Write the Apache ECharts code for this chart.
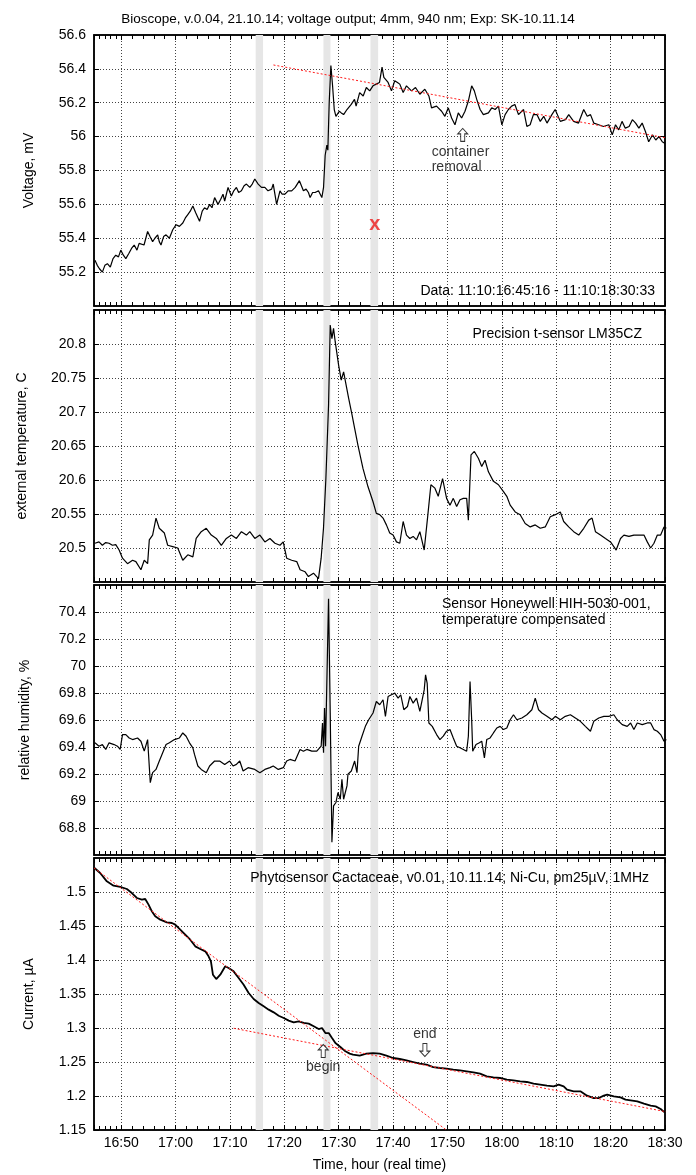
<!DOCTYPE html>
<html>
<head>
<meta charset="utf-8">
<script src="https://cdn.jsdelivr.net/npm/echarts@6/dist/echarts.min.js"></script>
<style>
html, body { margin: 0; padding: 0; background: #fff; }
#main { width: 696px; height: 1175px; }
</style>
</head>
<body>
<div id="main"></div>
<script>
// time is kept as minutes after 16:45
var startTime = new Date(2014, 10, 11, 16, 45, 0).getTime();
function ts(m) { return startTime + m * 60000; }
function pad(n) { return (n < 10 ? '0' : '') + n; }

// grey vertical marks (minutes after 16:45)
var bands = [[29.73, 31.09], [42.19, 43.48], [50.84, 52.25]];

var voltage = [[0.18,55.27],[0.6,55.24],[1.0,55.22],[1.54,55.20],[2.0,55.24],[2.46,55.25],[3.0,55.23],[3.5,55.28],[4.0,55.30],[4.5,55.29],[4.93,55.33],[5.4,55.30],[5.85,55.28],[6.4,55.31],[6.9,55.34],[7.39,55.36],[7.9,55.33],[8.3,55.37],[8.63,55.38],[9.2,55.36],[9.86,55.44],[10.3,55.41],[10.78,55.38],[11.2,55.40],[11.71,55.42],[12.0,55.38],[12.32,55.36],[12.8,55.41],[13.25,55.42],[13.86,55.40],[14.48,55.45],[15.1,55.48],[15.7,55.47],[16.33,55.49],[16.8,55.52],[17.25,55.54],[17.7,55.56],[18.18,55.59],[18.7,55.55],[19.41,55.50],[19.9,55.56],[20.33,55.58],[20.8,55.57],[21.26,55.60],[21.7,55.58],[22.18,55.64],[22.8,55.60],[23.3,55.63],[23.72,55.66],[24.03,55.62],[24.65,55.70],[25.26,55.65],[25.7,55.68],[26.19,55.70],[26.6,55.67],[27.11,55.68],[27.6,55.71],[28.03,55.72],[28.65,55.70],[29.1,55.72],[29.57,55.75],[30.19,55.72],[30.8,55.70],[31.42,55.70],[32.0,55.68],[32.66,55.69],[32.96,55.72],[33.58,55.60],[34.2,55.68],[34.6,55.66],[35.12,55.66],[35.7,55.68],[36.35,55.68],[37.0,55.70],[37.77,55.74],[38.51,55.68],[39.0,55.69],[39.43,55.67],[39.74,55.64],[40.2,55.67],[40.67,55.67],[41.28,55.68],[41.9,55.64],[42.21,55.70],[42.51,55.89],[42.82,55.95],[43.0,55.92],[43.25,56.2],[43.56,56.42],[43.87,56.30],[44.18,56.16],[44.49,56.12],[45.1,56.15],[45.47,56.14],[45.9,56.13],[46.52,56.16],[47.3,56.19],[47.9,56.22],[48.2,56.18],[48.85,56.26],[49.5,56.24],[50.08,56.29],[50.7,56.27],[51.3,56.30],[51.9,56.31],[52.5,56.32],[52.97,56.41],[53.3,56.35],[54.08,56.32],[54.7,56.27],[55.3,56.33],[55.8,56.32],[56.23,56.31],[56.85,56.26],[57.46,56.30],[58.38,56.27],[59.12,56.29],[59.92,56.25],[60.84,56.28],[61.58,56.24],[62.07,56.17],[62.99,56.18],[63.92,56.15],[64.53,56.12],[65.15,56.17],[65.76,56.11],[66.38,56.07],[66.99,56.14],[67.6,56.11],[68.22,56.15],[68.84,56.21],[69.45,56.30],[69.94,56.27],[70.38,56.22],[71.0,56.16],[71.6,56.13],[72.53,56.14],[73.14,56.17],[73.76,56.16],[74.37,56.18],[75.0,56.07],[75.6,56.13],[76.2,56.16],[76.8,56.18],[77.4,56.19],[78.06,56.13],[78.99,56.16],[79.6,56.06],[80.2,56.07],[80.8,56.13],[81.45,56.13],[82.06,56.09],[82.7,56.12],[83.3,56.08],[84.2,56.13],[84.8,56.16],[85.75,56.09],[86.7,56.10],[87.3,56.13],[88.2,56.09],[89.1,56.08],[90.05,56.16],[90.7,56.12],[91.3,56.13],[91.9,56.08],[92.8,56.07],[93.7,56.06],[94.67,56.07],[95.3,56.01],[95.9,56.07],[96.5,56.04],[97.1,56.09],[97.7,56.05],[98.4,56.06],[99.0,56.10],[99.6,56.08],[100.2,56.05],[100.8,56.08],[101.4,56.03],[102.0,55.97],[102.7,56.01],[103.3,55.98],[103.9,56.00],[104.5,55.97],[105.0,55.96]];
var voltageFit = [[33.0,56.423],[105.6,55.99]];
var redMark = [[51.63,55.484]];
var containerArrow = [[67.8,56.01]];

var temperature = [[0.18,20.507],[0.92,20.509],[1.54,20.504],[2.16,20.508],[2.77,20.507],[3.39,20.504],[4.0,20.505],[4.62,20.497],[5.24,20.485],[6.16,20.477],[7.09,20.482],[7.7,20.480],[8.63,20.468],[9.24,20.482],[9.86,20.477],[10.17,20.512],[10.78,20.519],[11.4,20.544],[12.0,20.529],[12.94,20.522],[13.55,20.504],[14.48,20.502],[15.4,20.500],[16.33,20.482],[17.25,20.490],[18.18,20.487],[18.79,20.514],[19.72,20.524],[20.64,20.529],[21.57,20.519],[22.49,20.514],[23.41,20.504],[24.34,20.514],[25.26,20.519],[26.19,20.514],[27.11,20.524],[28.03,20.519],[28.65,20.524],[29.57,20.514],[30.5,20.519],[31.42,20.509],[32.35,20.514],[33.27,20.507],[34.2,20.504],[34.8,20.509],[35.43,20.485],[36.35,20.482],[37.28,20.480],[37.9,20.468],[38.82,20.465],[39.43,20.458],[40.36,20.463],[41.28,20.455],[41.77,20.485],[42.2,20.529],[42.64,20.602],[43.13,20.710],[43.44,20.828],[43.75,20.808],[44.05,20.823],[44.36,20.803],[44.98,20.769],[45.47,20.747],[45.9,20.759],[46.83,20.720],[47.44,20.696],[47.93,20.676],[48.54,20.651],[49.46,20.617],[50.39,20.590],[51.31,20.568],[51.92,20.551],[52.54,20.549],[53.15,20.544],[53.77,20.534],[54.38,20.522],[55.0,20.519],[55.62,20.509],[56.23,20.507],[56.85,20.539],[57.46,20.519],[58.08,20.514],[58.69,20.517],[59.31,20.512],[59.92,20.524],[60.72,20.497],[61.33,20.544],[61.95,20.593],[62.69,20.588],[63.3,20.576],[64.1,20.602],[64.84,20.573],[65.46,20.563],[66.07,20.573],[66.69,20.561],[67.3,20.571],[67.92,20.573],[68.53,20.573],[68.84,20.541],[69.33,20.637],[69.94,20.642],[70.68,20.632],[71.3,20.620],[71.91,20.629],[72.53,20.612],[73.45,20.598],[74.37,20.593],[75.3,20.583],[75.91,20.576],[76.53,20.563],[77.45,20.553],[78.37,20.549],[79.29,20.536],[80.22,20.531],[81.14,20.534],[82.06,20.529],[82.98,20.531],[83.9,20.546],[84.83,20.549],[85.75,20.553],[86.37,20.539],[87.29,20.531],[88.21,20.524],[89.13,20.519],[90.06,20.529],[90.98,20.541],[91.59,20.544],[92.21,20.524],[93.13,20.519],[94.05,20.514],[94.98,20.509],[95.59,20.502],[96.02,20.497],[96.82,20.514],[97.44,20.519],[98.36,20.517],[99.28,20.519],[100.2,20.519],[101.13,20.519],[101.74,20.509],[102.36,20.500],[102.97,20.507],[103.59,20.519],[104.2,20.519],[104.82,20.531],[105.25,20.529]];

var humidity = [[0.18,69.431],[0.92,69.406],[1.54,69.418],[2.16,69.382],[2.77,69.431],[3.7,69.418],[4.31,69.406],[4.81,69.382],[5.24,69.492],[5.85,69.492],[6.47,69.467],[7.09,69.455],[8.01,69.467],[8.63,69.443],[9.24,69.369],[9.86,69.455],[10.35,69.136],[10.78,69.21],[11.4,69.234],[12.01,69.296],[12.63,69.357],[13.25,69.418],[13.86,69.431],[14.79,69.455],[15.71,69.467],[16.33,69.504],[16.94,69.48],[17.56,69.431],[18.18,69.394],[18.48,69.345],[19.1,69.259],[19.72,69.234],[20.64,69.21],[21.26,69.259],[22.18,69.296],[23.1,69.296],[24.03,69.271],[24.95,69.296],[25.57,69.259],[26.19,69.271],[26.8,69.296],[27.42,69.222],[28.34,69.247],[29.57,69.234],[30.5,69.21],[31.42,69.234],[32.35,69.247],[32.96,69.259],[33.89,69.234],[34.81,69.247],[35.43,69.296],[36.04,69.308],[36.97,69.296],[37.89,69.382],[38.51,69.369],[39.13,69.382],[40.05,69.369],[40.97,69.369],[41.77,69.406],[42.02,69.578],[42.21,69.357],[42.39,69.688],[42.58,69.406],[42.82,69.406],[43.13,70.498],[43.44,69.652],[43.75,68.695],[44.05,68.964],[44.49,68.989],[44.86,69.063],[45.29,69.013],[45.59,69.161],[45.9,69.013],[46.52,69.112],[46.7,69.198],[47.32,69.222],[47.93,69.296],[48.36,69.21],[48.67,69.406],[49.28,69.48],[49.9,69.553],[50.51,69.602],[51.31,69.652],[51.92,69.737],[52.54,69.713],[53.15,69.75],[53.59,69.627],[54.08,69.774],[54.69,69.787],[55.31,69.799],[55.92,69.762],[56.41,69.787],[56.97,69.676],[57.64,69.70],[58.08,69.774],[58.69,69.725],[59.31,69.762],[59.92,69.664],[60.72,69.823],[60.97,69.934],[61.27,69.872],[61.58,69.578],[62.2,69.553],[63.0,69.492],[63.61,69.455],[64.23,69.48],[64.84,69.517],[65.46,69.529],[66.07,69.467],[66.69,69.406],[67.3,69.394],[67.92,69.382],[68.53,69.369],[68.84,69.48],[69.15,69.885],[69.45,69.602],[69.64,69.369],[70.25,69.418],[70.87,69.431],[71.3,69.443],[71.79,69.32],[72.22,69.455],[72.84,69.467],[73.45,69.504],[74.07,69.541],[74.68,69.553],[75.3,69.529],[75.91,69.541],[76.53,69.602],[77.14,69.639],[77.76,69.602],[78.68,69.615],[79.6,69.639],[80.52,69.676],[81.14,69.762],[81.75,69.676],[82.37,69.652],[83.29,69.627],[84.21,69.602],[84.83,69.627],[85.75,69.602],[86.67,69.627],[87.6,69.639],[88.52,69.615],[89.44,69.59],[90.36,69.553],[91.29,69.517],[91.9,69.59],[92.82,69.615],[93.75,69.627],[94.67,69.627],[95.59,69.639],[96.21,69.602],[97.13,69.566],[98.05,69.553],[98.67,69.578],[99.28,69.529],[99.9,69.578],[100.82,69.566],[101.74,69.578],[102.36,69.578],[102.97,69.529],[103.59,69.517],[104.2,69.492],[104.82,69.443],[105.25,69.455]];

var current = [[0.09,1.5353],[1.13,1.528],[2.36,1.5157],[3.59,1.5093],[4.82,1.5074],[6.04,1.5044],[6.96,1.4985],[7.88,1.4912],[8.8,1.4887],[9.42,1.4897],[10.03,1.4814],[10.64,1.4716],[11.26,1.4642],[12.18,1.4593],[13.4,1.4554],[14.33,1.4544],[14.94,1.452],[15.86,1.4446],[16.78,1.4373],[17.7,1.4299],[18.62,1.4201],[19.54,1.4162],[20.46,1.4127],[21.07,1.4054],[21.5,1.398],[21.87,1.3784],[22.48,1.372],[23.22,1.3784],[24.14,1.3907],[24.75,1.3882],[25.67,1.3833],[26.6,1.3735],[27.52,1.3637],[28.44,1.3515],[29.36,1.3426],[30.28,1.3368],[31.2,1.3319],[32.12,1.327],[33.04,1.323],[33.96,1.3181],[34.88,1.3147],[35.8,1.3108],[36.72,1.3083],[37.64,1.3098],[38.56,1.3074],[39.48,1.3064],[40.4,1.3025],[41.32,1.2985],[41.93,1.3],[42.55,1.2926],[43.16,1.2926],[43.77,1.2853],[44.39,1.2779],[45.31,1.272],[46.23,1.2657],[47.02,1.2623],[47.62,1.2608],[48.85,1.2593],[50.08,1.2623],[51.31,1.2632],[52.54,1.2623],[53.77,1.2593],[55.0,1.2559],[56.23,1.2544],[57.46,1.2525],[58.69,1.25],[59.92,1.2475],[61.15,1.2461],[62.38,1.2426],[63.61,1.2412],[64.84,1.2402],[66.07,1.2387],[67.3,1.2377],[68.53,1.2363],[69.76,1.2348],[70.99,1.2328],[72.22,1.2289],[73.45,1.2275],[74.68,1.2265],[75.91,1.224],[77.14,1.223],[78.37,1.2216],[79.6,1.2206],[80.83,1.2181],[82.06,1.2167],[83.29,1.2152],[84.52,1.2142],[85.44,1.2167],[86.37,1.2142],[86.98,1.2093],[88.21,1.2069],[89.44,1.2069],[90.67,1.2005],[91.9,1.197],[92.82,1.197],[93.75,1.2005],[94.36,1.202],[95.59,1.1995],[96.82,1.198],[97.74,1.1946],[98.67,1.1936],[99.9,1.1922],[101.13,1.1887],[102.36,1.1858],[103.28,1.1848],[104.2,1.1809],[104.94,1.176]];
var currentFitA = [[0,1.5353],[64.8,1.15]];
var currentFitB = [[25.7,1.2996],[105.6,1.1762]];
var beginArrow = [[42.15,1.2662]];
var endArrow = [[60.85,1.2676]];

var yTicks = [
  { min: 55, max: 56.6, interval: 0.2 },
  { min: 20.45, max: 20.85, interval: 0.05 },
  { min: 68.6, max: 70.6, interval: 0.2 },
  { min: 1.15, max: 1.55, interval: 0.05 }
];

var font = 'Liberation Sans, Arial, Helvetica, sans-serif';
var panels = [
  { top: 35, height: 271, name: 'Voltage, mV', gap: 58, showMin: false, showMax: true },
  { top: 310, height: 272, name: 'external temperature, C', gap: 65, showMin: false, showMax: false },
  { top: 585, height: 270, name: 'relative humidity, %', gap: 62, showMin: false, showMax: false },
  { top: 858, height: 272, name: 'Current, \u00b5A', gap: 58, showMin: true, showMax: false }
];

function toSeries(arr) {
  return arr.map(function (p) { return [ts(p[0]), p[1]]; });
}

var grids = [], xAxes = [], yAxes = [], series = [];
var tickStyle = { color: '#000', width: 1 };
var gridLine = { color: '#444', width: 1, type: [1, 2] };
// a hair above 10 min so the time scale settles on 10-minute steps
var tenMinutes = 660000;

panels.forEach(function (p, i) {
  grids.push({ left: 94, right: 31, top: p.top, height: p.height, show: true, borderColor: '#000', borderWidth: 1.5 });
  var xBase = {
    type: 'time', gridIndex: i, min: ts(0), max: ts(105),
    minInterval: tenMinutes, maxInterval: tenMinutes,
    axisLine: { show: true, onZero: false, lineStyle: { color: '#000', width: 1.5 } },
    axisTick: { show: true, inside: true, length: 5, lineStyle: tickStyle },
    minorTick: { show: true, splitNumber: 5, length: 4, lineStyle: tickStyle },
    axisPointer: { show: false }
  };
  xAxes.push(Object.assign({}, xBase, {
    position: 'bottom',
    splitLine: { show: true, lineStyle: gridLine },
    axisLabel: {
      show: i === 3, margin: 6, color: '#000', fontSize: 14, fontFamily: font,
      formatter: function (v) { var d = new Date(v); return pad(d.getHours()) + ':' + pad(d.getMinutes()); }
    },
    name: i === 3 ? 'Time, hour (real time)' : '',
    nameLocation: 'middle', nameGap: 28,
    nameTextStyle: { color: '#000', fontSize: 14, fontFamily: font }
  }));
  xAxes.push(Object.assign({}, xBase, {
    position: 'top', splitLine: { show: false }, axisLabel: { show: false }
  }));
  var yBase = {
    type: 'value', gridIndex: i,
    min: yTicks[i].min, max: yTicks[i].max, interval: yTicks[i].interval,
    axisLine: { show: true, lineStyle: { color: '#000', width: 1.5 } },
    axisTick: { show: true, inside: true, length: 5, lineStyle: tickStyle }
  };
  yAxes.push(Object.assign({}, yBase, {
    position: 'left',
    splitLine: { show: true, lineStyle: gridLine },
    axisLabel: { margin: 8, color: '#000', fontSize: 14, fontFamily: font, showMinLabel: p.showMin, showMaxLabel: p.showMax },
    name: p.name, nameLocation: 'middle', nameGap: p.gap,
    nameTextStyle: { color: '#000', fontSize: 14, fontFamily: font }
  }));
  yAxes.push(Object.assign({}, yBase, {
    position: 'right', splitLine: { show: false }, axisLabel: { show: false }
  }));
});

var mainData = [voltage, temperature, humidity, current];
mainData.forEach(function (d, i) {
  series.push({
    type: 'line', xAxisIndex: 2 * i, yAxisIndex: 2 * i,
    data: toSeries(d), symbol: 'none', z: 4,
    lineStyle: { color: '#000', width: i === 3 ? 1.8 : 1.2 },
    markArea: {
      silent: true, itemStyle: { color: '#e6e6e6' },
      data: bands.map(function (b) { return [{ xAxis: ts(b[0]) }, { xAxis: ts(b[1]) }]; })
    }
  });
});

function fitLine(data, gi) {
  return {
    type: 'line', xAxisIndex: 2 * gi, yAxisIndex: 2 * gi, data: toSeries(data),
    symbol: 'none', z: 5, lineStyle: { color: '#ff1a1a', width: 1, type: [2, 2] }
  };
}
series.push(fitLine(voltageFit, 0));
series.push(fitLine(currentFitA, 3));
series.push(fitLine(currentFitB, 3));

var arrowPath = 'path://M5,0 L10,5 L7,5 L7,12 L3,12 L3,5 L0,5 Z';
function arrow(data, gi, rotate, label) {
  return {
    type: 'scatter', xAxisIndex: 2 * gi, yAxisIndex: 2 * gi, data: toSeries(data),
    symbol: arrowPath, symbolSize: [10, 13], symbolRotate: rotate, z: 6,
    itemStyle: { color: '#fff', borderColor: '#000', borderWidth: 1 },
    label: Object.assign({ show: true, color: '#000', fontSize: 14, fontFamily: font, lineHeight: 15 }, label)
  };
}
series.push(arrow(containerArrow, 0, 0, { position: 'bottom', distance: 3, align: 'left', offset: [-31, 0], formatter: 'container\nremoval' }));
series.push(arrow(beginArrow, 3, 0, { position: 'bottom', distance: 2, formatter: 'begin' }));
series.push(arrow(endArrow, 3, 180, { position: 'top', distance: 1, formatter: 'end' }));

series.push({
  type: 'scatter', xAxisIndex: 0, yAxisIndex: 0, data: toSeries(redMark),
  symbolSize: 1, itemStyle: { color: 'rgba(0,0,0,0)' }, z: 6,
  label: { show: true, position: 'inside', formatter: 'x', color: '#ee1c1c', fontSize: 20, fontWeight: 'bold', fontFamily: font, offset: [0, 0] }
});

function note(text, x, y, align) {
  return { type: 'text', x: x, y: y, z: 10, style: { text: text, fill: '#000', font: '14px ' + font, align: align, verticalAlign: 'middle' } };
}

var chart = echarts.init(document.getElementById('main'));
chart.setOption({
  animation: false,
  backgroundColor: '#fff',
  title: {
    text: 'Bioscope, v.0.04, 21.10.14; voltage output; 4mm, 940 nm; Exp: SK-10.11.14',
    left: 'center', top: 7,
    textStyle: { color: '#000', fontSize: 13.5, fontWeight: 'normal', fontFamily: font }
  },
  grid: grids,
  xAxis: xAxes,
  yAxis: yAxes,
  series: series,
  graphic: [
    note('Data: 11:10:16:45:16 - 11:10:18:30:33', 655, 291, 'right'),
    note('Precision t-sensor LM35CZ', 642, 334, 'right'),
    note('Sensor Honeywell HIH-5030-001,', 442, 604, 'left'),
    note('temperature compensated', 442, 620, 'left'),
    note('Phytosensor Cactaceae, v0.01, 10.11.14; Ni-Cu, pm25\u00b5V, 1MHz', 649, 878, 'right')
  ]
});
</script>
</body>
</html>
